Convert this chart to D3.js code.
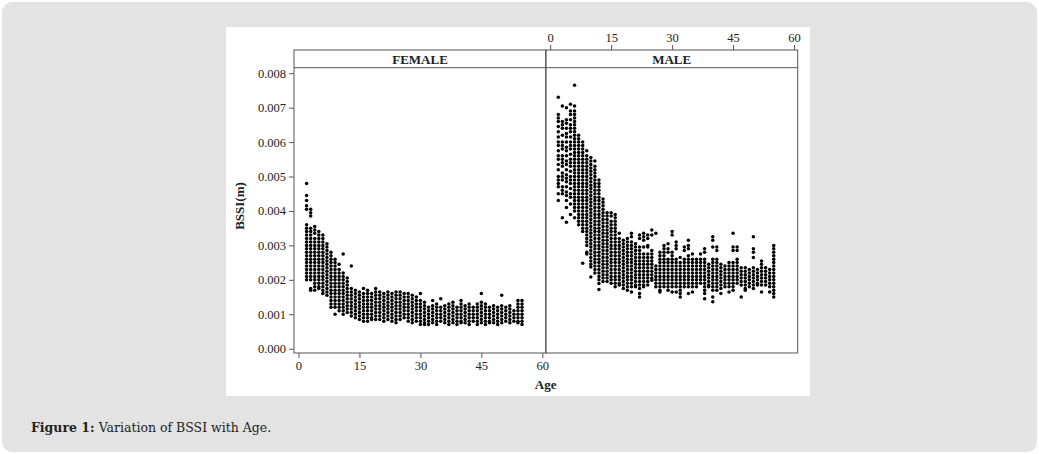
<!DOCTYPE html>
<html>
<head>
<meta charset="utf-8">
<script src="https://cdn.jsdelivr.net/npm/d3@7"></script>
<style>
    body { margin: 0; background: #ffffff; }
    text { font-family: "Liberation Serif", "Times New Roman", serif; fill: #222; }
</style>
</head>
<body>
<div id="chart"></div>
<script>
// Ages (years) shown as columns in both panels
var ages = [2, 3, 4, 5, 6, 7, 8, 9, 10, 11, 12, 13, 14, 15, 16, 17, 18, 19, 20, 21, 22, 23, 24, 25, 26, 27, 28,
    29, 30, 31, 32, 33, 34, 35, 36, 37, 38, 39, 40, 41, 42, 43, 44, 45, 46, 47, 48, 49, 50, 51, 52, 53, 54, 55];

// BSSI readings per age, in units of 0.001 m
var femaleBssi = [
    [4.8, 4.45, 4.3, 4.15, 4.05, 3.6, 3.5, 3.4, 3.3, 3.2, 3.1, 3.0, 2.9, 2.8, 2.7, 2.6, 2.5, 2.4, 2.3, 2.2, 2.1, 2.0],
    [4.05, 3.95, 3.85, 3.5, 3.4, 3.3, 3.2, 3.1, 3.0, 2.9, 2.8, 2.7, 2.6, 2.5, 2.4, 2.3, 2.2, 2.1, 2.0, 1.75, 1.7],
    [3.55, 3.45, 3.35, 3.2, 3.1, 3.0, 2.9, 2.8, 2.7, 2.6, 2.5, 2.4, 2.3, 2.2, 2.1, 2.0, 1.9, 1.8, 1.7],
    [3.4, 3.3, 3.2, 3.1, 3.0, 2.9, 2.8, 2.7, 2.6, 2.5, 2.4, 2.3, 2.2, 2.1, 2.0, 1.9, 1.8, 1.75],
    [3.3, 3.2, 3.1, 3.0, 2.9, 2.8, 2.7, 2.6, 2.5, 2.4, 2.3, 2.2, 2.1, 2.0, 1.9, 1.8, 1.7, 1.6],
    [3.05, 2.95, 2.85, 2.75, 2.65, 2.55, 2.45, 2.35, 2.25, 2.15, 2.05, 1.95, 1.85, 1.75, 1.65, 1.55],
    [2.8, 2.7, 2.6, 2.5, 2.4, 2.3, 2.2, 2.1, 2.0, 1.9, 1.8, 1.7, 1.6, 1.5, 1.4, 1.3, 1.2],
    [2.6, 2.5, 2.4, 2.3, 2.2, 2.1, 2.0, 1.9, 1.8, 1.7, 1.6, 1.5, 1.4, 1.3, 1.2, 1.0],
    [2.45, 2.3, 2.2, 2.1, 2.0, 1.9, 1.8, 1.7, 1.6, 1.5, 1.4, 1.3, 1.2, 1.1],
    [2.75, 2.2, 2.1, 2.0, 1.9, 1.8, 1.7, 1.6, 1.5, 1.4, 1.3, 1.2, 1.1, 1.0],
    [2.05, 1.95, 1.85, 1.75, 1.65, 1.55, 1.45, 1.35, 1.25, 1.15, 1.05],
    [2.4, 1.75, 1.65, 1.55, 1.45, 1.35, 1.25, 1.15, 1.05, 0.95],
    [1.7, 1.6, 1.5, 1.4, 1.3, 1.2, 1.1, 1.0, 0.9],
    [1.65, 1.55, 1.45, 1.35, 1.25, 1.15, 1.05, 0.95, 0.85],
    [1.75, 1.6, 1.5, 1.4, 1.3, 1.2, 1.1, 1.0, 0.9, 0.8],
    [1.7, 1.6, 1.5, 1.4, 1.3, 1.2, 1.1, 1.0, 0.9, 0.8],
    [1.6, 1.5, 1.4, 1.3, 1.2, 1.1, 1.0, 0.9, 0.85],
    [1.75, 1.65, 1.55, 1.45, 1.35, 1.25, 1.15, 1.05, 0.95, 0.85],
    [1.65, 1.55, 1.45, 1.35, 1.25, 1.15, 1.05, 0.95, 0.85],
    [1.6, 1.5, 1.4, 1.3, 1.2, 1.1, 1.0, 0.9, 0.8],
    [1.65, 1.55, 1.45, 1.35, 1.25, 1.15, 1.05, 0.95, 0.85],
    [1.6, 1.5, 1.4, 1.3, 1.2, 1.1, 1.0, 0.9, 0.8],
    [1.65, 1.55, 1.45, 1.35, 1.25, 1.15, 1.05, 0.95, 0.85, 0.75],
    [1.65, 1.55, 1.45, 1.35, 1.25, 1.15, 1.05, 0.95, 0.85],
    [1.6, 1.5, 1.4, 1.3, 1.2, 1.1, 1.0, 0.9],
    [1.6, 1.5, 1.4, 1.3, 1.2, 1.1, 1.0, 0.9, 0.8],
    [1.55, 1.45, 1.35, 1.25, 1.15, 1.05, 0.95, 0.85, 0.75],
    [1.5, 1.4, 1.3, 1.2, 1.1, 1.0, 0.9, 0.8],
    [1.6, 1.4, 1.3, 1.2, 1.1, 1.0, 0.9, 0.8, 0.7],
    [1.35, 1.25, 1.15, 1.05, 0.95, 0.85, 0.75, 0.7],
    [1.2, 1.1, 1.0, 0.9, 0.8, 0.7],
    [1.4, 1.25, 1.15, 1.05, 0.95, 0.85, 0.75],
    [1.3, 1.2, 1.1, 1.0, 0.9, 0.8, 0.7],
    [1.45, 1.2, 1.1, 1.0, 0.9, 0.8],
    [1.25, 1.15, 1.05, 0.95, 0.85, 0.75],
    [1.3, 1.2, 1.1, 1.0, 0.9, 0.8, 0.7],
    [1.35, 1.25, 1.15, 1.05, 0.95, 0.85, 0.75],
    [1.2, 1.1, 1.0, 0.9, 0.8, 0.7],
    [1.4, 1.3, 1.2, 1.1, 1.0, 0.9, 0.8, 0.75],
    [1.25, 1.15, 1.05, 0.95, 0.85, 0.75],
    [1.3, 1.2, 1.1, 1.0, 0.9, 0.8, 0.7],
    [1.2, 1.1, 1.0, 0.9, 0.8],
    [1.3, 1.2, 1.1, 1.0, 0.9, 0.8, 0.7],
    [1.6, 1.35, 1.25, 1.15, 1.05, 0.95, 0.85, 0.75],
    [1.3, 1.2, 1.1, 1.0, 0.9, 0.8, 0.7],
    [1.2, 1.1, 1.0, 0.9, 0.8, 0.75],
    [1.25, 1.15, 1.05, 0.95, 0.85, 0.75],
    [1.2, 1.1, 1.0, 0.9, 0.8, 0.7],
    [1.55, 1.25, 1.15, 1.05, 0.95, 0.85, 0.75],
    [1.2, 1.1, 1.0, 0.9, 0.8],
    [1.25, 1.15, 1.05, 0.95, 0.85, 0.75],
    [1.1, 1.0, 0.9, 0.8],
    [1.4, 1.3, 1.2, 1.1, 1.0, 0.9, 0.8, 0.75],
    [1.4, 1.3, 1.2, 1.1, 1.0, 0.9, 0.8, 0.7]
];

var maleBssi = [
    [7.3, 6.8, 6.7, 6.6, 6.45, 6.3, 6.15, 6.0, 5.9, 5.75, 5.6, 5.5, 5.35, 5.2, 5.0, 4.9, 4.8, 4.7, 4.5, 4.3],
    [7.05, 6.6, 6.5, 6.4, 6.2, 6.0, 5.9, 5.8, 5.6, 5.5, 5.4, 5.3, 5.1, 5.0, 4.9, 4.7, 4.6, 4.5, 3.8],
    [7.0, 6.65, 6.55, 6.4, 6.25, 6.15, 6.0, 5.85, 5.75, 5.6, 5.45, 5.35, 5.2, 5.05, 4.95, 4.85, 4.7, 4.55, 4.45, 4.3, 4.1, 3.67],
    [7.1, 6.9, 6.8, 6.65, 6.5, 6.4, 6.3, 6.15, 6.0, 5.9, 5.8, 5.65, 5.5, 5.4, 5.3, 5.15, 5.0, 4.9, 4.8, 4.65, 4.5, 4.4, 4.2, 3.9],
    [7.65, 7.05, 6.9, 6.8, 6.7, 6.6, 6.5, 6.4, 6.3, 6.2, 6.1, 6.0, 5.9, 5.8, 5.7, 5.6, 5.5, 5.4, 5.3, 5.2, 5.1, 5.0, 4.9, 4.8, 4.7, 4.6, 4.5, 4.4, 4.3, 4.2, 4.1, 4.0, 3.8],
    [6.2, 6.1, 6.0, 5.9, 5.8, 5.7, 5.6, 5.5, 5.4, 5.3, 5.2, 5.1, 5.0, 4.9, 4.8, 4.7, 4.6, 4.5, 4.4, 4.3, 4.2, 4.1, 4.0, 3.9, 3.8, 3.7, 3.6],
    [6.0, 5.9, 5.8, 5.7, 5.6, 5.5, 5.4, 5.3, 5.2, 5.1, 5.0, 4.9, 4.8, 4.7, 4.6, 4.5, 4.4, 4.3, 4.2, 4.1, 4.0, 3.9, 3.8, 3.7, 3.6, 3.5, 3.4, 2.48],
    [5.75, 5.6, 5.5, 5.4, 5.3, 5.2, 5.1, 5.0, 4.9, 4.8, 4.7, 4.6, 4.5, 4.4, 4.3, 4.2, 4.1, 4.0, 3.9, 3.8, 3.7, 3.6, 3.5, 3.4, 3.3, 3.2, 3.1, 3.0, 2.8, 2.75],
    [5.55, 5.45, 5.35, 5.25, 5.15, 5.05, 4.95, 4.85, 4.75, 4.65, 4.55, 4.45, 4.35, 4.25, 4.15, 4.05, 3.95, 3.85, 3.75, 3.65, 3.55, 3.45, 3.35, 3.25, 3.15, 3.05, 2.95, 2.85, 2.75, 2.65, 2.55, 2.45, 2.37, 2.08],
    [5.45, 5.3, 5.2, 5.1, 5.0, 4.9, 4.8, 4.7, 4.6, 4.5, 4.4, 4.3, 4.2, 4.1, 4.0, 3.9, 3.8, 3.7, 3.6, 3.5, 3.4, 3.3, 3.2, 3.1, 3.0, 2.9, 2.8, 2.7, 2.6, 2.5, 2.4, 2.3, 2.2],
    [4.9, 4.8, 4.7, 4.6, 4.5, 4.4, 4.3, 4.2, 4.1, 4.0, 3.9, 3.8, 3.7, 3.6, 3.5, 3.4, 3.3, 3.2, 3.1, 3.0, 2.9, 2.8, 2.7, 2.6, 2.5, 2.4, 2.3, 2.2, 2.1, 2.0, 1.89, 1.72],
    [4.35, 4.25, 4.15, 4.05, 3.95, 3.85, 3.75, 3.65, 3.55, 3.45, 3.35, 3.25, 3.15, 3.05, 2.95, 2.85, 2.75, 2.65, 2.55, 2.45, 2.35, 2.25, 2.15, 2.05, 1.95],
    [3.95, 3.85, 3.75, 3.65, 3.55, 3.45, 3.35, 3.25, 3.15, 3.05, 2.95, 2.85, 2.75, 2.65, 2.55, 2.45, 2.35, 2.25, 2.15, 2.05, 1.95],
    [3.95, 3.85, 3.7, 3.6, 3.5, 3.4, 3.3, 3.2, 3.1, 3.0, 2.9, 2.8, 2.7, 2.6, 2.5, 2.4, 2.3, 2.2, 2.1, 2.0, 1.9],
    [3.9, 3.8, 3.7, 3.6, 3.5, 3.4, 3.3, 3.2, 3.1, 3.0, 2.9, 2.8, 2.7, 2.6, 2.5, 2.4, 2.3, 2.2, 2.1, 2.0, 1.9, 1.8],
    [3.35, 3.2, 3.1, 3.0, 2.9, 2.8, 2.7, 2.6, 2.5, 2.4, 2.3, 2.2, 2.1, 2.0, 1.9, 1.85],
    [3.15, 3.05, 2.95, 2.85, 2.75, 2.65, 2.55, 2.45, 2.35, 2.25, 2.15, 2.05, 1.95, 1.85, 1.75],
    [3.2, 3.1, 3.0, 2.9, 2.8, 2.7, 2.6, 2.5, 2.4, 2.3, 2.2, 2.1, 2.0, 1.9, 1.8, 1.7],
    [3.35, 3.25, 3.1, 3.0, 2.9, 2.8, 2.7, 2.6, 2.5, 2.4, 2.3, 2.2, 2.1, 2.0, 1.9, 1.8, 1.65],
    [3.05, 2.95, 2.85, 2.75, 2.65, 2.55, 2.45, 2.35, 2.25, 2.15, 2.05, 1.95, 1.85, 1.8],
    [3.3, 3.2, 2.95, 2.85, 2.75, 2.65, 2.55, 2.45, 2.35, 2.25, 2.15, 2.05, 1.95, 1.85, 1.75, 1.6, 1.5],
    [3.35, 3.25, 3.15, 2.95, 2.75, 2.65, 2.55, 2.45, 2.35, 2.25, 2.15, 2.05, 1.95, 1.85, 1.8],
    [3.3, 3.2, 3.0, 2.95, 2.75, 2.65, 2.55, 2.45, 2.35, 2.25, 2.15, 2.05, 1.95, 1.85],
    [3.45, 3.3, 2.85, 2.75, 2.65, 2.55, 2.45, 2.35, 2.25, 2.15, 2.05, 1.99],
    [3.35, 2.4, 2.3, 2.2, 2.1, 2.0, 1.9, 1.8],
    [2.8, 2.7, 2.6, 2.5, 2.4, 2.3, 2.2, 2.1, 2.0, 1.9, 1.8, 1.7, 1.65],
    [3.0, 2.9, 2.8, 2.7, 2.6, 2.5, 2.4, 2.3, 2.2, 2.1, 2.0, 1.9, 1.8],
    [3.05, 2.9, 2.8, 2.6, 2.5, 2.4, 2.3, 2.2, 2.1, 2.0, 1.9, 1.8, 1.7],
    [3.4, 3.3, 2.8, 2.7, 2.6, 2.5, 2.4, 2.3, 2.2, 2.1, 2.0, 1.9, 1.8, 1.65],
    [3.1, 3.0, 2.9, 2.6, 2.5, 2.4, 2.3, 2.2, 2.1, 2.0, 1.9, 1.8, 1.65],
    [2.65, 2.5, 2.4, 2.3, 2.2, 2.1, 2.0, 1.9, 1.8, 1.7, 1.6, 1.5],
    [2.95, 2.85, 2.6, 2.5, 2.4, 2.3, 2.2, 2.1, 2.0, 1.9, 1.8],
    [3.15, 3.0, 2.9, 2.7, 2.6, 2.5, 2.4, 2.3, 2.2, 2.1, 2.0, 1.9, 1.8, 1.6],
    [2.75, 2.6, 2.5, 2.4, 2.3, 2.2, 2.1, 2.0, 1.9, 1.8, 1.65],
    [2.6, 2.5, 2.4, 2.3, 2.2, 2.1, 2.0, 1.9, 1.8],
    [2.75, 2.6, 2.5, 2.4, 2.3, 2.2, 2.1, 2.0, 1.9],
    [2.9, 2.8, 2.6, 2.5, 2.4, 2.3, 2.2, 2.1, 2.0, 1.9, 1.8, 1.7, 1.6, 1.45],
    [2.45, 2.35, 2.25, 2.15, 2.05, 1.95, 1.85, 1.8],
    [3.25, 3.15, 2.95, 2.6, 2.5, 2.4, 2.3, 2.2, 2.1, 2.0, 1.9, 1.8, 1.7, 1.5, 1.36],
    [2.95, 2.85, 2.6, 2.5, 2.4, 2.3, 2.2, 2.1, 2.0, 1.9, 1.8, 1.7],
    [2.45, 2.35, 2.25, 2.15, 2.05, 1.95, 1.85, 1.75, 1.6],
    [2.4, 2.3, 2.2, 2.1, 2.0, 1.9, 1.8],
    [2.5, 2.4, 2.3, 2.2, 2.1, 2.0, 1.9, 1.8, 1.65],
    [3.35, 2.95, 2.85, 2.5, 2.4, 2.3, 2.2, 2.1, 2.0, 1.9, 1.8, 1.7],
    [2.95, 2.85, 2.6, 2.5, 2.4, 2.3, 2.2, 2.1, 2.0, 1.9],
    [2.35, 2.25, 2.15, 2.05, 1.95, 1.85, 1.5],
    [2.35, 2.25, 2.15, 2.05, 1.95, 1.85, 1.75, 1.7],
    [2.3, 2.2, 2.1, 2.0, 1.9, 1.8],
    [3.25, 2.9, 2.8, 2.65, 2.35, 2.25, 2.15, 2.05, 1.95, 1.85, 1.75],
    [2.3, 2.2, 2.1, 2.0, 1.9, 1.85],
    [2.55, 2.45, 2.35, 2.25, 2.15, 2.05, 1.95, 1.85, 1.65],
    [2.35, 2.25, 2.15, 2.05, 1.95, 1.85],
    [2.3, 2.2, 2.1, 2.0, 1.9, 1.8, 1.65],
    [3.0, 2.9, 2.8, 2.7, 2.6, 2.5, 2.4, 2.3, 2.2, 2.1, 2.0, 1.9, 1.8, 1.7, 1.6, 1.5]
];

var panels = ["FEMALE", "MALE"];
var ageTicks = [0, 15, 30, 45, 60];
var bssiTicks = [0, 0.001, 0.002, 0.003, 0.004, 0.005, 0.006, 0.007, 0.008];

// Turn the per-age lists into flat point lists
function toPoints(values) {
    var pts = [];
    values.forEach(function (col, i) {
        col.forEach(function (v) {
            pts.push({age: ages[i], bssi: v / 1000});
        });
    });
    return pts;
}
var panelData = [toPoints(femaleBssi), toPoints(maleBssi)];

var W = 1039, H = 454;
var svg = d3.select("#chart").append("svg")
    .attr("width", W)
    .attr("height", H);

// Grey card and white figure area
svg.append("rect")
    .attr("x", 2).attr("y", 2)
    .attr("width", W - 4).attr("height", H - 4)
    .attr("rx", 10)
    .attr("fill", "#e3e3e3");
svg.append("rect")
    .attr("x", 226).attr("y", 27)
    .attr("width", 584).attr("height", 369)
    .attr("fill", "#ffffff");

// Layout of the two facet panels
var panelLeft = [294, 545.7];
var panelW = 252;
var stripTop = 50, plotTop = 67.7, plotBottom = 353;
var lineCol = "#555";
var tickFont = "12.5px";

var y = d3.scaleLinear()
    .domain([-0.000125, 0.00816])
    .range([plotBottom, plotTop]);

panels.forEach(function (name, p) {
    var x = d3.scaleLinear()
        .domain([-1.1, 60.9])
        .range([panelLeft[p], panelLeft[p] + panelW]);

    var g = svg.append("g");

    // points
    g.selectAll("circle")
        .data(panelData[p])
        .enter()
        .append("circle")
        .attr("cx", function (d) { return x(d.age); })
        .attr("cy", function (d) { return y(d.bssi); })
        .attr("r", 1.75)
        .attr("fill", "#000");

    // panel frame + strip
    g.append("rect")
        .attr("x", panelLeft[p]).attr("y", stripTop)
        .attr("width", panelW).attr("height", plotBottom - stripTop)
        .attr("fill", "none")
        .attr("stroke", lineCol);
    g.append("line")
        .attr("x1", panelLeft[p]).attr("x2", panelLeft[p] + panelW)
        .attr("y1", plotTop).attr("y2", plotTop)
        .attr("stroke", lineCol);
    g.append("text")
        .attr("x", panelLeft[p] + panelW / 2)
        .attr("y", stripTop + 13.5)
        .attr("text-anchor", "middle")
        .style("font-size", "13px")
        .style("font-weight", "bold")
        .text(name);

    // x axis: bottom for female, top for male
    var axis = p === 0 ? d3.axisBottom(x) : d3.axisTop(x);
    var ax = svg.append("g")
        .attr("transform", "translate(0," + (p === 0 ? plotBottom : stripTop) + ")")
        .call(axis.tickValues(ageTicks).tickSize(5).tickPadding(3));
    ax.select(".domain").remove();
    ax.selectAll("line").attr("stroke", lineCol);
    ax.selectAll("text")
        .style("font-family", "'Liberation Serif', serif")
        .style("font-size", tickFont)
        .attr("fill", "#222");
});

// y axis on the female panel
var yAx = svg.append("g")
    .attr("transform", "translate(" + panelLeft[0] + ",0)")
    .call(d3.axisLeft(y).tickValues(bssiTicks).tickFormat(d3.format(".3f")).tickSize(5).tickPadding(3));
yAx.select(".domain").remove();
yAx.selectAll("line").attr("stroke", lineCol);
yAx.selectAll("text")
    .style("font-family", "'Liberation Serif', serif")
    .style("font-size", tickFont)
    .attr("fill", "#222");

// axis titles
svg.append("text")
    .attr("transform", "translate(244,206)rotate(-90)")
    .attr("text-anchor", "middle")
    .style("font-size", "13px")
    .style("font-weight", "bold")
    .text("BSSI(m)");
svg.append("text")
    .attr("x", 545.7)
    .attr("y", 389)
    .attr("text-anchor", "middle")
    .style("font-size", "13px")
    .style("font-weight", "bold")
    .text("Age");

// caption
var cap = svg.append("text")
    .attr("x", 31)
    .attr("y", 432)
    .style("font-family", "'DejaVu Serif', serif")
    .style("font-size", "12.5px");
cap.append("tspan").style("font-weight", "bold").text("Figure 1:");
cap.append("tspan").text(" Variation of BSSI with Age.");
</script>
</body>
</html>
